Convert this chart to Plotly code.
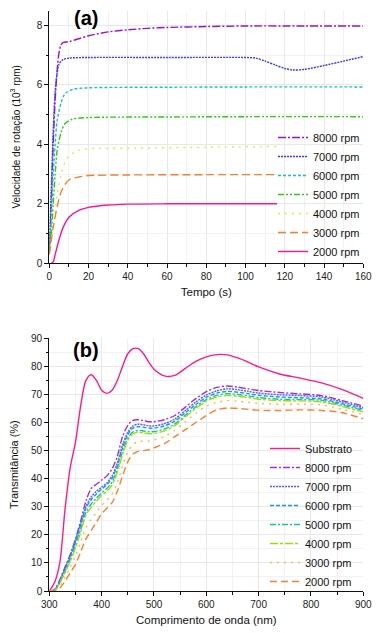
import plotly.graph_objects as go

# ---------------- Panel (a): rotation speed vs time ----------------
t_8000 = [0, 1, 2, 3, 4, 5, 6, 7, 10, 15, 20, 30, 40, 50, 60, 80, 100, 130, 160]
v_8000 = [0.3, 2.0, 4.0, 5.5, 6.5, 7.1, 7.35, 7.42, 7.45, 7.55, 7.65, 7.78, 7.85, 7.9, 7.93, 7.96, 7.98, 7.98, 7.98]

t_7000 = [0, 1, 2, 3, 4, 5, 7, 10, 20, 60, 100, 105, 110, 115, 120, 124, 130, 140, 150, 160]
v_7000 = [0.5, 2.5, 4.5, 5.8, 6.4, 6.7, 6.85, 6.9, 6.92, 6.92, 6.92, 6.9, 6.8, 6.67, 6.55, 6.5, 6.52, 6.65, 6.8, 6.95]

t_6000 = [0, 1, 2, 3, 4, 6, 8, 12, 20, 60, 100, 160]
v_6000 = [0.4, 1.5, 3.0, 4.0, 4.8, 5.4, 5.7, 5.85, 5.9, 5.92, 5.93, 5.93]

t_5000 = [0, 1, 2, 3, 4, 6, 8, 12, 20, 60, 100, 160]
v_5000 = [0.4, 1.0, 2.0, 3.0, 3.8, 4.4, 4.7, 4.85, 4.9, 4.92, 4.93, 4.93]

t_4000 = [0, 2, 4, 6, 8, 10, 15, 20, 40, 80, 116]
v_4000 = [0.3, 1.2, 2.3, 3.0, 3.4, 3.6, 3.8, 3.85, 3.87, 3.9, 3.93]

t_3000 = [0, 2, 4, 6, 8, 10, 15, 20, 40, 80, 116]
v_3000 = [0.3, 1.2, 1.9, 2.4, 2.65, 2.8, 2.9, 2.95, 2.97, 2.98, 2.98]

t_2000 = [1, 2, 3, 5, 7, 10, 15, 20, 30, 40, 60, 90, 116]
v_2000 = [0.0, 0.05, 0.3, 0.8, 1.2, 1.55, 1.78, 1.88, 1.96, 1.99, 2.0, 2.0, 2.0]

# ---------------- Panel (b): transmittance vs wavelength ----------------
wl = [300, 310, 320, 330, 340, 350, 360, 370, 380, 390, 400, 410, 420, 430, 440, 450, 460, 470,
      480, 490, 500, 520, 540, 560, 580, 600, 620, 640, 660, 680, 700, 740, 780, 820, 860, 900]

T_sub = [0, 3, 10, 29, 44, 53, 66, 75, 77, 75, 71.5, 70.4, 71.5, 75, 80, 84.5, 86.3, 86.3,
         84.5, 81.5, 79, 76.6, 76.8, 79.3, 81.8, 83.4, 84.2, 84.1, 83, 81.5, 79.8, 77.3, 75.8, 74.1, 71.7, 68.6]
T_8000 = [0, 0.5, 4, 8.5, 13, 18.5, 25, 32, 36.5, 38, 39.5, 41, 43.5, 48, 55, 59, 60.8, 61,
          60.7, 60.3, 60.3, 61, 62.5, 65.5, 68.5, 71, 72.5, 73, 72.6, 72, 71.4, 70.7, 70.2, 69.6, 67.8, 65.9]
T_7000 = [0, 0.4, 3.5, 8, 12.5, 18, 24, 30, 33.5, 35.5, 37, 38.5, 41, 45.5, 52, 56.5, 58.8, 59.4,
          59.2, 58.8, 58.8, 59.6, 61.3, 64.3, 67.3, 69.8, 71.3, 72, 71.7, 71.1, 70.5, 69.9, 69.6, 69.1, 67.3, 65.3]
T_6000 = [0, 0.3, 3.3, 7.6, 12, 17.5, 23.5, 29.5, 32.5, 34.5, 36.3, 37.8, 40.2, 44.7, 51, 55.7, 58, 58.5,
          58.3, 58, 58, 58.8, 60.5, 63.5, 66.4, 69, 70.5, 71.1, 70.8, 70.3, 69.7, 69.1, 68.8, 68.4, 66.7, 64.8]
T_5000 = [0, 0.2, 3, 7, 11.2, 16.3, 22, 28, 31, 33, 35, 36.5, 38.8, 43.3, 49.7, 54.5, 56.7, 57.2,
          57, 56.7, 56.8, 57.7, 59.5, 62.6, 65.6, 68.2, 69.7, 70.3, 70, 69.5, 68.9, 68.3, 68.2, 67.9, 66.2, 64.3]
T_4000 = [0, 0.2, 2.8, 6.5, 10.5, 15.3, 21, 27, 29.8, 32, 34, 35.5, 37.8, 42.3, 48.7, 53.7, 56, 56.5,
          56.3, 56, 56.1, 57, 58.9, 62, 65, 67.6, 69.1, 69.6, 69.4, 68.9, 68.3, 67.8, 67.7, 67.4, 65.7, 63.8]
T_3000 = [0, 0, 1.8, 5, 8.5, 12.5, 17.5, 22.5, 25.5, 28, 30.5, 32.3, 34.5, 38.7, 44.5, 49.5, 52.3, 53.2,
          53.4, 53.4, 53.8, 55, 57.3, 60.3, 63.3, 65.8, 67.2, 67.8, 67.6, 67.2, 66.8, 66.5, 66.5, 66.3, 64.7, 62.9]
T_2000 = [0, 0, 1, 3.5, 6.5, 9.5, 14, 18.5, 21.5, 24.5, 27.5, 29.5, 31.5, 35.5, 41, 46, 48.8, 49.7,
          50, 50.3, 51, 52.5, 55, 57.5, 60, 62.5, 64.5, 65.2, 65, 64.7, 64.4, 64.3, 64.5, 64.3, 63.5, 61.3]

labels_top = ["8000 rpm", "7000 rpm", "6000 rpm", "5000 rpm", "4000 rpm", "3000 rpm", "2000 rpm"]
labels_bot = ["Substrato", "8000 rpm", "7000 rpm", "6000 rpm", "5000 rpm", "4000 rpm", "3000 rpm", "2000 rpm"]

FONT = "Liberation Sans, Arial, sans-serif"

top_series = [(t_8000, v_8000), (t_7000, v_7000), (t_6000, v_6000), (t_5000, v_5000),
              (t_4000, v_4000), (t_3000, v_3000), (t_2000, v_2000)]
top_styles = [
    ("#9a12d0", "8px,2px,2px,2px"),
    ("#3a3aff", "2px,1px"),
    ("#19c4c4", "3px,2px"),
    ("#2ccc10", "6px,2px,2px,2px,2px,2px"),
    ("#e6e64a", "2px,5px"),
    ("#f5802a", "8px,4px"),
    ("#ff1493", "solid"),
]

bot_series = [T_sub, T_8000, T_7000, T_6000, T_5000, T_4000, T_3000, T_2000]
bot_styles = [
    ("#ff1a8c", "solid"),
    ("#a030e0", "7px,2px,2px,2px"),
    ("#4f5cff", "2px,1px"),
    ("#1e90ff", "4px,2px"),
    ("#10c890", "6px,2px,2px,2px"),
    ("#99dd11", "8px,2px,3px,2px"),
    ("#f0c050", "2px,5px"),
    ("#ff7f2a", "7px,4px"),
]

fig = go.Figure()

for (tx, vy), name, (col, dash) in zip(top_series, labels_top, top_styles):
    fig.add_trace(go.Scatter(x=tx, y=vy, mode="lines", name=name, line_shape="spline",
                             line=dict(color=col, width=1.4, dash=dash, smoothing=0.8),
                             xaxis="x", yaxis="y", legend="legend"))

for vals, name, (col, dash) in zip(bot_series, labels_bot, bot_styles):
    fig.add_trace(go.Scatter(x=wl, y=vals, mode="lines", name=name, line_shape="spline",
                             line=dict(color=col, width=1.4, dash=dash, smoothing=0.8),
                             xaxis="x2", yaxis="y2", legend="legend2"))

# The page body has an 8px default margin, so the figure is drawn 8px in from the window edge.
OFF = 8
W, H = 380 - OFF, 633 - OFF

def px(x):
    return (x - OFF) / W

def py(y):
    return 1 - (y - OFF) / H

xdom = [px(49.3), px(363.3)]
ydom_top = [py(263.3), py(10.5)]
ydom_bot = [py(591), py(338.3)]

grid_col = "#e8e8e8"
tick_font = dict(family=FONT, size=10, color="#222")
title_font = dict(family=FONT, size=11.5, color="#111")

def axis(**kw):
    base = dict(showline=True, linecolor="#111", linewidth=1.2, ticks="outside", ticklen=4,
                tickwidth=1, tickcolor="#111", showgrid=True, gridcolor=grid_col, gridwidth=1,
                zeroline=False, tickfont=tick_font, automargin=False, mirror=False,
                ticklabeloverflow="allow")
    base.update(kw)
    return base

minor_kw = dict(ticks="outside", ticklen=2.5, tickcolor="#111", showgrid=True, gridcolor="#f2f2f2")

fig.update_layout(
    width=W, height=H,
    margin=dict(l=0, r=0, t=0, b=0),
    paper_bgcolor="white", plot_bgcolor="white",
    font=dict(family=FONT, size=11, color="#111"),
    xaxis=axis(domain=xdom, anchor="y", range=[0, 160], dtick=20, tick0=0,
               minor=dict(dtick=10, **minor_kw),
               title=dict(text="Tempo (s)", font=title_font, standoff=6)),
    yaxis=axis(domain=ydom_top, anchor="x", range=[0, 8.5], dtick=2, tick0=0,
               minor=dict(dtick=1, **minor_kw),
               title=dict(text="Velocidade de rotação (10<sup>3</sup> rpm)",
                          font=dict(family=FONT, size=10, color="#111"), standoff=14)),
    xaxis2=axis(domain=xdom, anchor="y2", range=[300, 900], dtick=100, tick0=300,
                minor=dict(dtick=50, **minor_kw),
                title=dict(text="Comprimento de onda (nm)", font=title_font, standoff=6)),
    yaxis2=axis(domain=ydom_bot, anchor="x2", range=[0, 90], dtick=10, tick0=0,
                minor=dict(dtick=5, **minor_kw),
                title=dict(text="Transmitância (%)",
                           font=dict(family=FONT, size=11, color="#111"), standoff=10)),
    legend=dict(x=px(273), y=py(123), xanchor="left", yanchor="top",
                bgcolor="rgba(255,255,255,0)", borderwidth=0,
                font=dict(family=FONT, size=11, color="#111"), itemwidth=30,
                tracegroupgap=0),
    legend2=dict(x=px(265), y=py(434), xanchor="left", yanchor="top",
                 bgcolor="rgba(255,255,255,0)", borderwidth=0,
                 font=dict(family=FONT, size=11, color="#111"), itemwidth=30,
                 tracegroupgap=0),
    annotations=[
        dict(text="<b>(a)</b>", x=px(86), y=py(18), xref="paper", yref="paper",
             xanchor="center", yanchor="middle",
             showarrow=False, font=dict(family=FONT, size=20, color="#000")),
        dict(text="<b>(b)</b>", x=px(86), y=py(350), xref="paper", yref="paper",
             xanchor="center", yanchor="middle",
             showarrow=False, font=dict(family=FONT, size=20, color="#000")),
    ],
)

fig.write_html("out.html")
